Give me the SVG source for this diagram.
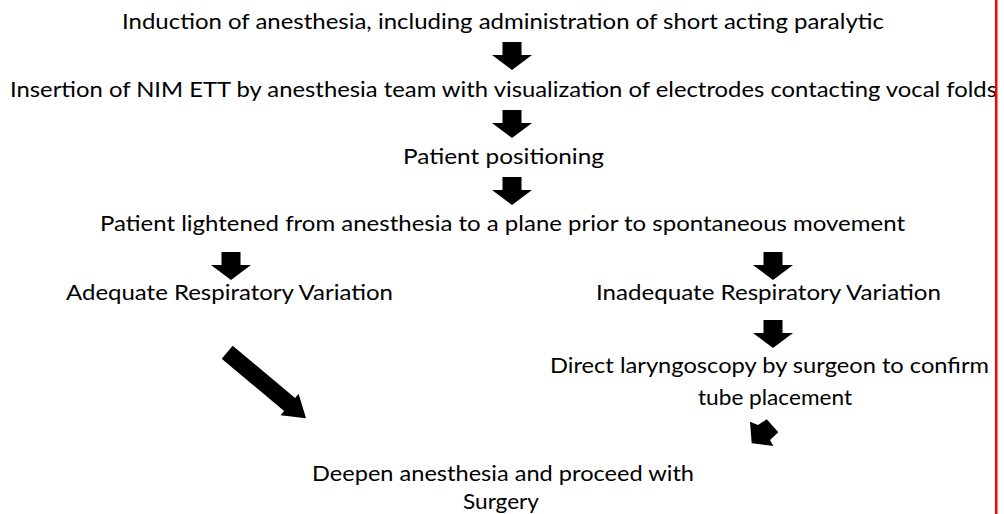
<svg xmlns="http://www.w3.org/2000/svg" xmlns:xlink="http://www.w3.org/1999/xlink" width="1004" height="514" viewBox="0 0 1004 514">
<style>
text{font-family:Lato,"Open Sans","Liberation Sans",sans-serif;font-size:20.5px;fill:#000}
.arr{fill:#000}
</style>
<defs>
<path id="down" d="M-9.5,0 H9.5 V13 H20 L0,28 L-20,13 H-9.5 Z"/>
</defs>
<rect width="1004" height="514" fill="#fff"/>
<g id="n1"><text x="122" y="29" textLength="762" lengthAdjust="spacingAndGlyphs">Induction of anesthesia, including administration of short acting paralytic</text></g>
<g id="n2"><text x="10" y="97" textLength="987" lengthAdjust="spacingAndGlyphs">Insertion of NIM ETT by anesthesia team with visualization of electrodes contacting vocal folds</text></g>
<g id="n3"><text x="403" y="164" textLength="201" lengthAdjust="spacingAndGlyphs">Patient positioning</text></g>
<g id="n4"><text x="100" y="231" textLength="805" lengthAdjust="spacingAndGlyphs">Patient lightened from anesthesia to a plane prior to spontaneous movement</text></g>
<g id="n5"><text x="66" y="300" textLength="327" lengthAdjust="spacingAndGlyphs">Adequate Respiratory Variation</text></g>
<g id="n6"><text x="596" y="300" textLength="345" lengthAdjust="spacingAndGlyphs">Inadequate Respiratory Variation</text></g>
<g id="n7"><text x="550" y="373" textLength="439" lengthAdjust="spacingAndGlyphs">Direct laryngoscopy by surgeon to confirm</text><text x="698" y="405" textLength="154" lengthAdjust="spacingAndGlyphs">tube placement</text></g>
<g id="n8"><text x="312" y="481" textLength="382" lengthAdjust="spacingAndGlyphs">Deepen anesthesia and proceed with</text><text x="463" y="509" textLength="76" lengthAdjust="spacingAndGlyphs">Surgery</text></g>
<g id="connectors" class="arr">
<use xlink:href="#down" transform="translate(512,42)"/>
<use xlink:href="#down" transform="translate(512,110)"/>
<use xlink:href="#down" transform="translate(512,177)"/>
<use xlink:href="#down" transform="translate(231,252)"/>
<use xlink:href="#down" transform="translate(773,252)"/>
<use xlink:href="#down" transform="translate(773,320)"/>
<polygon points="221.7,358.7 232.7,345.7 295.1,398 298.6,393.8 306,418.3 280.6,415.2 284.1,411"/>
<polygon points="751.7,443.3 750,421.7 758,425 766.7,419.3 778.3,432.3 770,440 773.3,446"/>
</g>
<rect x="995" y="0" width="2.5" height="514" fill="#ff0000"/>
</svg>
